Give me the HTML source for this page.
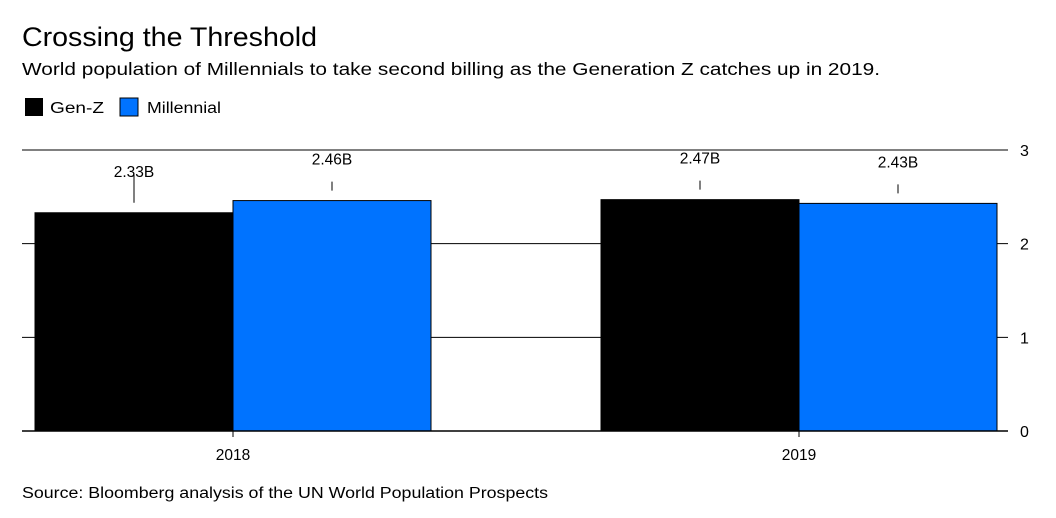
<!DOCTYPE html>
<html><head><meta charset="utf-8"><style>
body{margin:0;width:1056px;height:513px;background:#fff;font-family:"Liberation Sans",sans-serif;overflow:hidden}
</style></head><body>
<svg width="1056" height="513" style="font-family:'Liberation Sans',sans-serif">
<text x="22" y="46" font-size="27" fill="#000" textLength="295" lengthAdjust="spacingAndGlyphs">Crossing the Threshold</text>
<text x="22" y="75" font-size="17.5" fill="#000" textLength="858" lengthAdjust="spacingAndGlyphs">World population of Millennials to take second billing as the Generation Z catches up in 2019.</text>
<rect x="25" y="98" width="18" height="18" fill="#000"/>
<text x="50" y="113" font-size="15.5" textLength="54" lengthAdjust="spacingAndGlyphs">Gen-Z</text>
<rect x="120" y="98" width="18" height="18" fill="#0073ff" stroke="#000" stroke-width="1"/>
<text x="147" y="113" font-size="15.5" textLength="74" lengthAdjust="spacingAndGlyphs">Millennial</text>
<g id="plot"></g>
<text x="22" y="498" font-size="15.5" textLength="526" lengthAdjust="spacingAndGlyphs">Source: Bloomberg analysis of the UN World Population Prospects</text>
</svg>
<script>
const categories=["2018","2019"];
const genz=[2.33,2.47];
const millennial=[2.46,2.43];
const labels=["2.33B","2.47B"];
const mlabels=["2.46B","2.43B"];
const yTicks=[0,1,2,3];
const NS="http://www.w3.org/2000/svg";
const g=document.getElementById('plot');
const L=22,R=1008,Y0=431,Y3=150;
const y=v=>Y0-(Y0-Y3)*v/3;
const gx=[35,601];
function el(t,a){const e=document.createElementNS(NS,t);for(const k in a)e.setAttribute(k,a[k]);g.appendChild(e);return e;}
yTicks.forEach(t=>{
 const l=el('line',{x1:L,x2:R,y1:y(t),y2:y(t),stroke:'#000','stroke-width':1});
 
 
 const tx=el('text',{x:1020,y:y(t)+6,'font-size':16});
 tx.textContent=t;
 
 
});
const bw=198;
categories.forEach((c,i)=>{
 const series=[[genz[i],'#000',labels[i],'genz'],[millennial[i],'#0073ff',mlabels[i],'millennial']];
 series.forEach((s,j)=>{
  const x=gx[i]+j*bw;
  const r=el('rect',{x:x,y:y(s[0]),width:bw,height:Y0-y(s[0]),fill:s[1],stroke:'#000','stroke-width':1});
  
  
  const cx=x+bw/2;
  const tk=el('line',{x1:cx,x2:cx,y1:y(s[0])-(i==0&&j==0?38:19),y2:y(s[0])-10,stroke:'#000','stroke-width':1});
  
  
  const t=el('text',{x:cx,y:y(s[0])-36,'font-size':15.5,'text-anchor':'middle'});
  t.textContent=s[2];
  
  
 });
 const xt=el('line',{x1:gx[i]+bw,x2:gx[i]+bw,y1:Y0,y2:Y0+6,stroke:'#000'});
 
 
 const xl=el('text',{x:gx[i]+bw,y:Y0+29,'font-size':15.5,'text-anchor':'middle'});
 xl.textContent=c;
 
 
});
const ax=el('line',{x1:L,x2:R,y1:Y0,y2:Y0,stroke:'#000','stroke-width':1.5});


</script>
</body></html>
